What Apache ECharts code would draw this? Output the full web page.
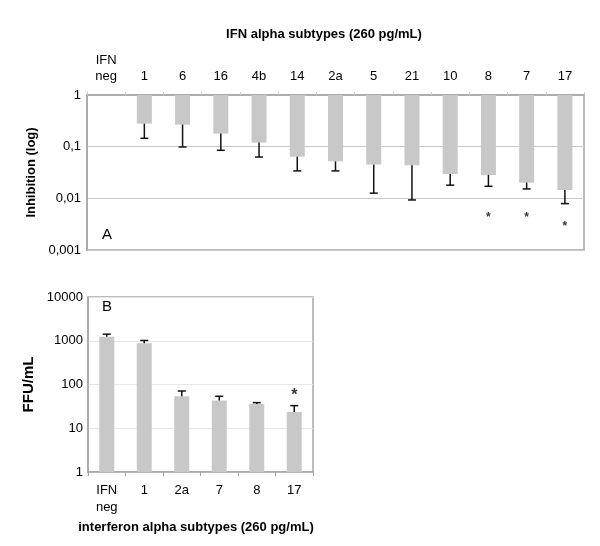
<!DOCTYPE html>
<html>
<head>
<meta charset="utf-8">
<script src="https://cdn.jsdelivr.net/npm/echarts@6/dist/echarts.min.js"></script>
<style>
  html, body { margin: 0; padding: 0; background: #fff; }
  #chart { width: 600px; height: 546px; }
</style>
</head>
<body>
<div id="chart"></div>
<script>
// panel A: inhibition per subtype
var subtypesA = ['IFN\nneg', '1', '6', '16', '4b', '14', '2a', '5', '21', '10', '8', '7', '17'];
var inhibition = [null, 0.279, 0.267, 0.179, 0.12, 0.064, 0.052, 0.045, 0.0436, 0.0297, 0.0284, 0.0201, 0.0145];
var inhibitionErrLow = [null, 0.145, 0.0986, 0.085, 0.063, 0.034, 0.034, 0.0126, 0.0093, 0.018, 0.0171, 0.0152, 0.0079];
var starsA = [[10, 0.0045], [11, 0.0045], [12, 0.003]];

// panel B: FFU/mL
var subtypesB = ['IFN\nneg', '1', '2a', '7', '8', '17'];
var ffu = [1227, 882, 53.8, 42.8, 36, 23.6];
var ffuErrHigh = [1413, 1016, 71, 53.8, 38.5, 32.9];
var starsB = [[5, 65]];

var FONT = 'Liberation Sans, Arial, sans-serif';
var BORDER = '#a6a6a6';
var BAR = '#c8c8c8';

function errData(vals, ends) {
    var out = [];
    vals.forEach(function (v, i) {
        if (v != null) out.push([i, v, ends[i]]);
    });
    return out;
}

// vertical error line from bar end to the whisker end, capped there
function renderErr(params, api) {
    var x = api.value(0);
    var p0 = api.coord([x, api.value(1)]);
    var p1 = api.coord([x, api.value(2)]);
    var half = 4;
    return {
        type: 'group',
        children: [
            { type: 'line', shape: { x1: p0[0], y1: p0[1], x2: p1[0], y2: p1[1] },
              style: { stroke: '#111', lineWidth: 1.5 } },
            { type: 'line', shape: { x1: p1[0] - half, y1: p1[1], x2: p1[0] + half, y2: p1[1] },
              style: { stroke: '#111', lineWidth: 1.5 } }
        ]
    };
}

var commaFmt = function (v) { return String(v).replace('.', ','); };

var chart = echarts.init(document.getElementById('chart'));
chart.setOption({
    animation: false,
    textStyle: { fontFamily: FONT },
    title: {
        text: 'IFN alpha subtypes (260 pg/mL)',
        left: 319, top: 23, textAlign: 'center',
        textStyle: { fontSize: 13, fontWeight: 'bold', color: '#000', fontFamily: FONT }
    },
    graphic: [
        { type: 'text', left: 102, top: 227, style: { text: 'A', fontSize: 15, fill: '#000', fontFamily: FONT } },
        { type: 'text', left: 102, top: 299, style: { text: 'B', fontSize: 15, fill: '#000', fontFamily: FONT } },
        { type: 'text', x: 196, y: 527, style: {
            text: 'interferon alpha subtypes (260 pg/mL)', fontSize: 13, fontWeight: 'bold',
            fill: '#000', fontFamily: FONT, align: 'center', verticalAlign: 'middle' } }
    ],
    grid: [
        { left: 87, top: 95, width: 497, height: 155, show: true, borderColor: BORDER, borderWidth: 1.5 },
        { left: 88, top: 297, width: 225, height: 175, show: true, borderColor: BORDER, borderWidth: 1.5 }
    ],
    xAxis: [
        {
            type: 'category', gridIndex: 0, position: 'top', data: subtypesA,
            axisLine: { lineStyle: { color: BORDER, width: 1.5 } },
            axisTick: { show: true, length: 3, lineStyle: { color: '#ccc' } },
            axisLabel: { color: '#000', fontSize: 13, margin: 11, interval: 0, lineHeight: 16 }
        },
        {
            type: 'category', gridIndex: 1, data: subtypesB,
            axisLine: { lineStyle: { color: BORDER, width: 1.5 } },
            axisTick: { show: true, length: 4, lineStyle: { color: BORDER } },
            axisLabel: { color: '#000', fontSize: 13, margin: 10, interval: 0, lineHeight: 17 }
        }
    ],
    yAxis: [
        {
            type: 'log', gridIndex: 0, min: 0.001, max: 1, logBase: 10,
            axisLine: { show: true, lineStyle: { color: BORDER, width: 1.5 } },
            axisTick: { show: false },
            splitLine: { lineStyle: { color: '#c8c8c8' } },
            axisLabel: { color: '#000', fontSize: 13, margin: 6, formatter: commaFmt },
            name: 'Inhibition (log)', nameLocation: 'middle', nameRotate: 90, nameGap: 48,
            nameTextStyle: { fontSize: 13, fontWeight: 'bold', color: '#000', fontFamily: FONT }
        },
        {
            type: 'log', gridIndex: 1, min: 1, max: 10000, logBase: 10,
            axisLine: { show: true, lineStyle: { color: BORDER, width: 1.5 } },
            axisTick: { show: false },
            splitLine: { lineStyle: { color: '#e6e6e6' } },
            axisLabel: { color: '#000', fontSize: 13, margin: 5, formatter: function (v) { return String(v); } },
            name: 'FFU/mL', nameLocation: 'middle', nameRotate: 90, nameGap: 52,
            nameTextStyle: { fontSize: 15, fontWeight: 'bold', color: '#000', fontFamily: FONT }
        }
    ],
    series: [
        {
            type: 'bar', xAxisIndex: 0, yAxisIndex: 0, data: inhibition,
            barWidth: 15, itemStyle: { color: BAR }
        },
        {
            type: 'custom', xAxisIndex: 0, yAxisIndex: 0, renderItem: renderErr,
            data: errData(inhibition, inhibitionErrLow), z: 3
        },
        {
            type: 'scatter', xAxisIndex: 0, yAxisIndex: 0, data: starsA,
            symbolSize: 1, itemStyle: { color: 'rgba(0,0,0,0)' },
            label: { show: true, formatter: '*', position: 'inside', color: '#000', fontSize: 12,
                     fontWeight: 'bold', offset: [0, 1] }
        },
        {
            type: 'bar', xAxisIndex: 1, yAxisIndex: 1, data: ffu,
            barWidth: 15, itemStyle: { color: BAR }
        },
        {
            type: 'custom', xAxisIndex: 1, yAxisIndex: 1, renderItem: renderErr,
            data: errData(ffu, ffuErrHigh), z: 3
        },
        {
            type: 'scatter', xAxisIndex: 1, yAxisIndex: 1, data: starsB,
            symbolSize: 1, itemStyle: { color: 'rgba(0,0,0,0)' },
            label: { show: true, formatter: '*', position: 'inside', color: '#000', fontSize: 16,
                     fontWeight: 'bold', offset: [0, 3] }
        }
    ]
});
</script>
</body>
</html>
